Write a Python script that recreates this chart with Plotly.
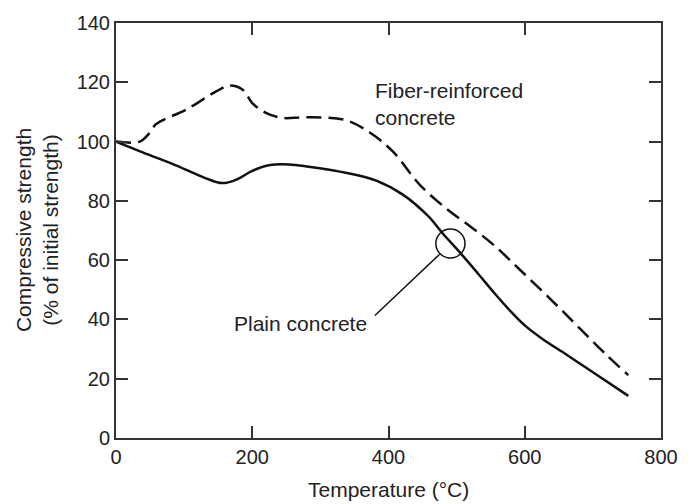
import plotly.graph_objects as go

# Plain concrete (solid)
plain_x = [0, 40, 88, 132, 156, 176, 200, 224, 254, 283, 341, 382, 421, 458, 480, 506, 531, 555, 575, 600, 625, 662, 705, 752]
plain_y = [100, 96.3, 92, 87.6, 86, 87.1, 90.1, 92, 92.3, 91.5, 89.3, 86.8, 82.1, 74.9, 68.9, 62.3, 55.6, 49, 43.8, 38.0, 33.6, 28, 21.4, 14.2]

# Fiber-reinforced concrete (dashed)
fiber_x = [0, 35, 50, 59, 103, 147, 166, 186, 200, 220, 244, 278, 336, 373, 407, 446, 487, 521, 555, 594, 638, 681, 720, 752]
fiber_y = [100, 100, 103.1, 105.9, 110.8, 116.9, 118.9, 117.5, 113, 109.7, 108, 108.2, 107.3, 103, 96.5, 85.4, 77.0, 71.2, 65.0, 56.5, 46.8, 36.9, 28, 21.2]

x_ticks = [0, 200, 400, 600, 800]
y_ticks = [0, 20, 40, 60, 80, 100, 120, 140]

FONT = "Liberation Sans, Arial, Helvetica, sans-serif"
TXT = "#222222"

fig = go.Figure()
fig.add_trace(go.Scatter(x=plain_x, y=plain_y, mode="lines",
                         line=dict(color="#111111", width=2.5, shape="spline", smoothing=1.0),
                         showlegend=False, hoverinfo="skip"))
fig.add_trace(go.Scatter(x=fiber_x, y=fiber_y, mode="lines",
                         line=dict(color="#111111", width=2.5, shape="spline", smoothing=1.0, dash="15px,7px"),
                         showlegend=False, hoverinfo="skip"))

# circle marking crossing region and leader line
fig.add_shape(type="circle", xref="x", yref="y", x0=469.5, x1=512.3, y0=60.7, y1=70.5,
              line=dict(color="#111111", width=1.5))
fig.add_shape(type="line", xref="x", yref="y", x0=475.5, y0=62.1, x1=380, y1=41.3,
              line=dict(color="#111111", width=1.5))

fig.add_annotation(x=170.5, y=38.5, xref="x", yref="y", text="Plain concrete",
                   showarrow=False, xanchor="left", yanchor="middle",
                   font=dict(family=FONT, size=21, color=TXT))
fig.add_annotation(x=377.5, y=112.7, xref="x", yref="y", text="Fiber-reinforced<br>concrete",
                   showarrow=False, xanchor="left", yanchor="middle", align="left",
                   font=dict(family=FONT, size=21, color=TXT))

fig.add_annotation(x=-0.1457, y=0.5, xref="paper", yref="paper",
                   text="Compressive strength<br>(% of initial strength)",
                   showarrow=False, textangle=-90, xanchor="center", yanchor="middle",
                   font=dict(family=FONT, size=21, color=TXT))
fig.add_annotation(x=0.5, y=-0.123, xref="paper", yref="paper",
                   text="Temperature (°C)",
                   showarrow=False, xanchor="center", yanchor="middle",
                   font=dict(family=FONT, size=21, color=TXT))

axis_common = dict(showline=True, linecolor="#333333", linewidth=2, mirror="ticks",
                   ticks="inside", ticklen=12, tickwidth=2, tickcolor="#333333",
                   showgrid=False, zeroline=False,
                   tickfont=dict(family=FONT, size=20, color=TXT))

fig.update_xaxes(range=[0, 800], tickvals=x_ticks, ticktext=[str(v) for v in x_ticks], **axis_common)
fig.update_yaxes(range=[0, 140], tickvals=y_ticks, ticktext=[str(v) for v in y_ticks], **axis_common)

fig.update_layout(width=690, height=504, margin=dict(l=116, r=25, t=15, b=66),
                  paper_bgcolor="white", plot_bgcolor="white",
                  font=dict(family=FONT, color=TXT))

fig.write_html("out.html")
